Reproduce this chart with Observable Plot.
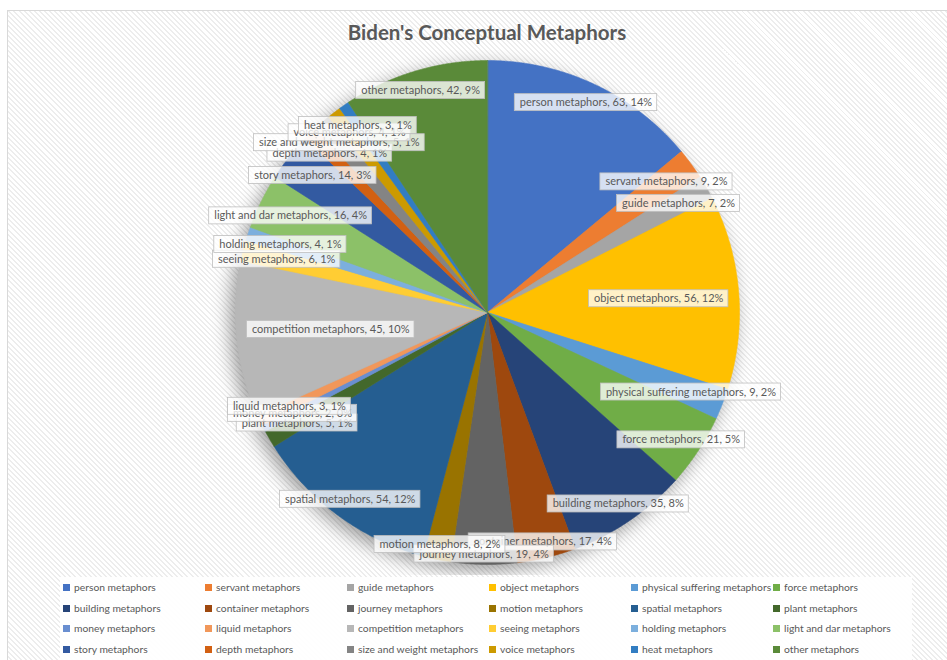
<!DOCTYPE html>
<html>
<head>
<meta charset="utf-8">
<script src="https://cdn.jsdelivr.net/npm/d3@7"></script>
<script src="https://cdn.jsdelivr.net/npm/@observablehq/plot@0.6"></script>
<style>
  body { margin: 0; background: #fff; font-family: Lato, sans-serif; overflow: hidden; }
  #frame { position: absolute; left: 7px; top: 10px; width: 945px; height: 660px; border: 1px solid #d9d9d9;
    background: repeating-linear-gradient(45deg, #ffffff 0px, #ffffff 2.2px, #ededed 2.2px, #ededed 3.6px); }
  #title { position: absolute; top: 20px; left: 287px; width: 400px; text-align: center;
    font: bold 20.5px Lato, sans-serif; color: #595959; }
  #chart { position: absolute; top: 50px; left: 0; }
  #chart svg g[aria-label="line"] { filter: drop-shadow(-5px 6px 9px rgba(0,0,0,0.38)); }
  #legend { position: absolute; left: 60px; top: 577px; width: 852px; height: 90px; background: rgba(255,255,255,0.92); }
  .item { position: absolute; font: 10.3px Lato, sans-serif; color: #595959; white-space: nowrap; line-height: 12px; }
  .sw { display: inline-block; width: 7px; height: 7px; margin-right: 4px; vertical-align: 0px; }
</style>
</head>
<body>
<div id="frame"></div>
<div id="title">Biden's Conceptual Metaphors</div>
<div id="chart"></div>
<div id="legend"></div>
<script>
const names = ["person metaphors","servant metaphors","guide metaphors","object metaphors","physical suffering metaphors","force metaphors",
  "building metaphors","container metaphors","journey metaphors","motion metaphors","spatial metaphors","plant metaphors",
  "money metaphors","liquid metaphors","competition metaphors","seeing metaphors","holding metaphors","light and dar metaphors",
  "story metaphors","depth metaphors","size and weight metaphors","voice metaphors","heat metaphors","other metaphors"];
const values = [63, 9, 7, 56, 9, 21, 35, 17, 19, 8, 54, 5, 2, 3, 45, 6, 4, 16, 14, 4, 5, 4, 3, 42];
const colors = ["#4472C4","#ED7D31","#A5A5A5","#FFC000","#5B9BD5","#70AD47",
  "#264478","#9E480E","#636363","#997300","#255E91","#43682B",
  "#698ED0","#F1975A","#B7B7B7","#FFCD33","#7CAFDD","#8CC168",
  "#335AA1","#D26012","#848484","#CC9A00","#327DC2","#5A8A39"];

const W = 947, H = 525, R = 252, CX = 487, CY = 262;
const total = d3.sum(values);
let acc = 0;
const slices = names.map((name, i) => {
  const a0 = acc / total * 2 * Math.PI; acc += values[i];
  const a1 = acc / total * 2 * Math.PI;
  return {name, value: values[i], color: colors[i], a0, a1, mid: (a0 + a1) / 2};
});

// polygon outline of each slice in unit coordinates
const rows = slices.flatMap(s => {
  const n = Math.max(2, Math.ceil((s.a1 - s.a0) / 0.004));
  const pts = [{name: s.name, color: s.color, x: 0, y: 0}];
  for (let k = 0; k <= n; k++) {
    const t = s.a0 + (s.a1 - s.a0) * k / n;
    pts.push({name: s.name, color: s.color, x: Math.sin(t), y: Math.cos(t)});
  }
  return pts;
});

// labels (best-fit style placement from each slice's mid angle)
const ctx = document.createElement("canvas").getContext("2d");
ctx.font = "11px Lato";
const labels = slices.map(s => {
  const text = `${s.name}, ${s.value}, ${Math.round(s.value / total * 100)}%`;
  const w = ctx.measureText(text).width + 10, h = 17;
  const sn = Math.abs(Math.sin(s.mid)), cs = Math.abs(Math.cos(s.mid));
  let d;
  if (s.value >= 20) {
    d = sn > 0.9 ? 0.96 * R - (w / 2 * sn + h / 2 * cs) : 0.92 * R;
  } else d = (0.96 - 0.1 * sn) * R;
  const x = d / R * Math.sin(s.mid), y = d / R * Math.cos(s.mid);
  return {text, x, y, x1: x - w / 2 / R, x2: x + w / 2 / R, y1: y - h / 2 / R, y2: y + h / 2 / R};
});

const marks = [
  Plot.line(rows, {x: "x", y: "y", z: "name", fill: "color", stroke: "color", strokeWidth: 0.6, curve: "linear-closed"}),
  ...labels.flatMap(l => [
    Plot.rect([l], {x1: "x1", x2: "x2", y1: "y1", y2: "y2", fill: "white", fillOpacity: 0.78, stroke: "#bfbfbf", strokeWidth: 0.8}),
    Plot.text([l], {x: "x", y: "y", text: "text", fill: "#595959", fontSize: 11, fontFamily: "Lato"})
  ])
];

const plot = Plot.plot({
  width: W, height: H,
  marginLeft: CX - R, marginRight: W - CX - R, marginTop: CY - R, marginBottom: H - CY - R,
  x: {domain: [-1, 1], axis: null},
  y: {domain: [-1, 1], axis: null},
  color: {type: "identity"},
  style: {background: "transparent", fontFamily: "Lato"},
  marks
});
document.getElementById("chart").appendChild(plot);

// legend
const leg = document.getElementById("legend");
names.forEach((n, i) => {
  const col = i % 6, row = Math.floor(i / 6);
  const el = document.createElement("div");
  el.className = "item";
  el.style.left = (3 + col * 142) + "px";
  el.style.top = (4 + row * 20.7) + "px";
  el.innerHTML = `<span class="sw" style="background:${colors[i]}"></span>${n}`;
  leg.appendChild(el);
});
</script>
</body>
</html>
